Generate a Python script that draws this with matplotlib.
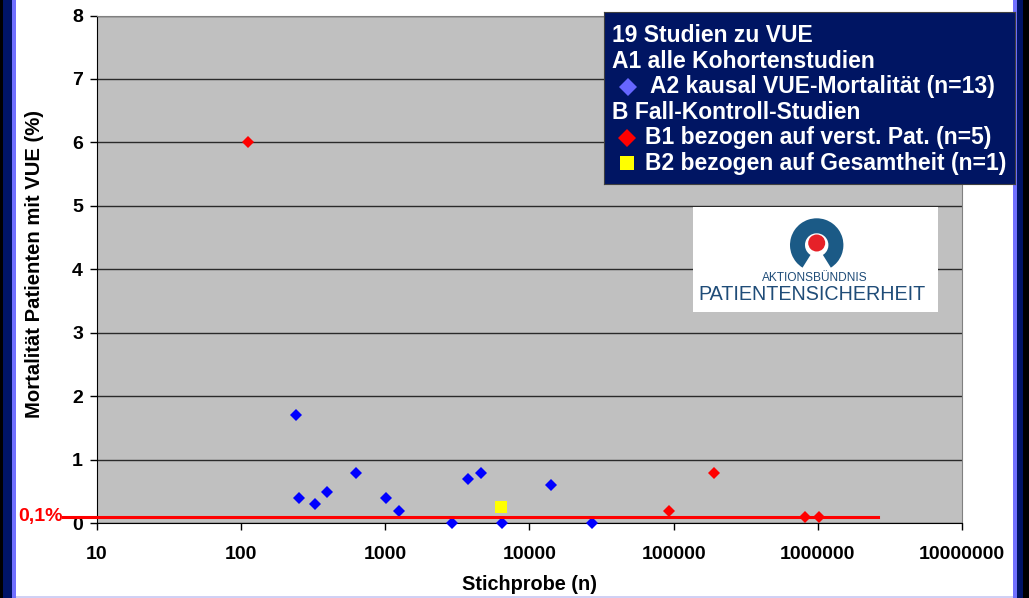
import matplotlib.pyplot as plt
from matplotlib.patches import Rectangle, Wedge, Circle
from matplotlib.ticker import NullLocator, FixedLocator
import matplotlib.transforms as mtransforms

plt.rcParams['font.family'] = ['Liberation Sans', 'DejaVu Sans']
plt.rcParams['font.weight'] = 'bold'

# A2 Kohortenstudien, kausal VUE-Mortalitaet (n=13)
a2_n = [240, 253, 327, 392, 622, 1012, 1250, 2900, 3750, 4620, 6450, 14150, 27200]
a2_mort = [1.7, 0.4, 0.3, 0.5, 0.8, 0.4, 0.2, 0.0, 0.7, 0.8, 0.0, 0.6, 0.0]
# B1 Fall-Kontroll-Studien, bezogen auf verst. Pat. (n=5)
b1_n = [112, 92700, 191000, 816000, 1020000]
b1_mort = [6.0, 0.2, 0.8, 0.1, 0.1]
# B2 bezogen auf Gesamtheit (n=1)
b2_n = [6300]
b2_mort = [0.25]
# 0,1% Referenzlinie
ref_n = [5.8, 2620000]
ref_mort = [0.1, 0.1]

x_ticks = [10, 100, 1000, 10000, 100000, 1000000, 10000000]
y_ticks = [0, 1, 2, 3, 4, 5, 6, 7, 8]

legend_lines = ['19 Studien zu VUE', 'A1 alle Kohortenstudien',
                'A2 kausal VUE-Mortalität (n=13)', 'B Fall-Kontroll-Studien',
                'B1 bezogen auf verst. Pat. (n=5)', 'B2 bezogen auf Gesamtheit (n=1)']

W, H = 1029, 598
fig = plt.figure(figsize=(W / 100, H / 100), dpi=100)
fig.patch.set_facecolor('white')


def px_box(x0, y0, x1, y1):
    # pixel box (top-left origin) -> figure fraction rect
    return [x0 / W, (H - y1) / H, (x1 - x0) / W, (y1 - y0) / H]


# frame strips of the slide
for (x0, y0, x1, y1, c) in [(0, 0, 3, 598, 'black'), (3, 0, 12, 598, '#001466'),
                            (12, 0, 16, 598, '#7070ff'), (1012.5, 0, 1016.5, 598, '#7070ff'),
                            (1016.5, 0, 1023, 598, '#001466'), (1023, 0, 1029, 598, 'black'),
                            (16, 596, 1012.5, 598, '#d0d0f4')]:
    r = px_box(x0, y0, x1, y1)
    fig.add_artist(Rectangle((r[0], r[1]), r[2], r[3], transform=fig.transFigure,
                             color=c, lw=0, zorder=0))

ax = fig.add_axes(px_box(97, 15.5, 962, 523.3))
ax.set_facecolor('#c0c0c0')
ax.set_xscale('log')
ax.set_xlim(10, 1e7)
ax.set_ylim(0, 8)
ax.xaxis.set_major_locator(FixedLocator(x_ticks))
ax.xaxis.set_minor_locator(NullLocator())
ax.set_xticklabels([str(v) for v in x_ticks])
ax.set_yticks(y_ticks)
ax.yaxis.grid(True, color='#2a2a2a', lw=1)
ax.set_axisbelow(True)
ax.tick_params(axis='both', labelsize=14, length=5, width=1, direction='out')
ax.tick_params(axis='x', pad=11)
ax.tick_params(axis='y', pad=5)
for s in ['top', 'right']:
    ax.spines[s].set_color('#808080')
for s in ['left', 'bottom']:
    ax.spines[s].set_color('black')

ax.plot(a2_n, a2_mort, 'D', color='#0000ff', ms=6.3, mew=0, zorder=3, clip_on=False)
ax.plot(ref_n, ref_mort, color='#ff0000', lw=2.2, zorder=4, clip_on=False)
ax.plot(b1_n, b1_mort, 'D', color='#ff0000', ms=6.3, mew=0, zorder=5, clip_on=False)
ax.plot(b2_n, b2_mort, 's', color='#ffff00', ms=9, mew=0, zorder=5, clip_on=False)

trans = mtransforms.blended_transform_factory(ax.transAxes, ax.transData)
ax.text(-0.0393, 0.1, '0,1%', transform=trans, ha='right', va='center',
        color='#ff0000', fontsize=14, fontweight='bold')

ax.set_ylabel('Mortalität Patienten mit VUE (%)', fontsize=14.6, fontweight='bold')
ax.yaxis.set_label_coords((34 - 97) / 865, 0.51)
ax.yaxis.label.set_va('center')
ax.set_xlabel('Stichprobe (n)', fontsize=14.3, fontweight='bold')
ax.xaxis.set_label_coords((530 - 97) / 865, -(585 - 523.3) / 507.8)
ax.xaxis.label.set_va('center')

# legend box
lg = fig.add_axes(px_box(604, 12, 1015, 184))
lg.set_xlim(604, 1015)
lg.set_ylim(184, 12)
lg.set_facecolor('#001563')
lg.set_xticks([])
lg.set_yticks([])
for s in lg.spines.values():
    s.set_color('#404040')
baselines = [41.7, 67.5, 93.2, 118.8, 144.4, 170]
text_x = [612, 612, 650, 612, 645, 645]
for txt, tx, by in zip(legend_lines, text_x, baselines):
    lg.text(tx, by, txt, color='white', fontsize=16.5, fontweight='bold',
            ha='left', va='baseline')
lg.plot([628], [87.3], 'D', color='#6666ff', ms=9.5, mew=0)
lg.plot([627], [137.7], 'D', color='#ff0000', ms=8.7, mew=0)
lg.plot([627], [162.7], 's', color='#ffff00', ms=9.6, mew=0)

# logo
lo = fig.add_axes(px_box(693, 207, 938, 312))
lo.set_xlim(693, 938)
lo.set_ylim(312, 207)
lo.set_facecolor('white')
lo.set_xticks([])
lo.set_yticks([])
for s in lo.spines.values():
    s.set_visible(False)
lo.add_patch(Wedge((816.7, 245), 26.7, 122, 58, width=15, color='#1b5a86', lw=0))
lo.add_patch(Circle((816.7, 243), 8.5, color='#e62128', lw=0))
lo.text(815, 278, 'AKTIONSBÜNDNIS', ha='center', va='center', color='#1f4c78',
        fontsize=8.6, fontweight='normal')
lo.text(812, 295, 'PATIENTENSICHERHEIT', ha='center', va='center', color='#1f4c78',
        fontsize=14.2, fontweight='normal')

fig.savefig('out.png', dpi=100)
